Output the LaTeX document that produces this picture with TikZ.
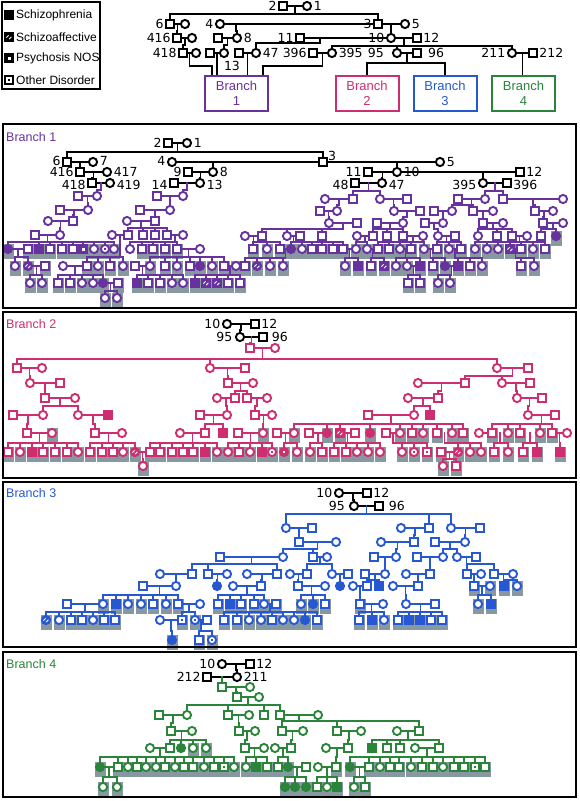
\documentclass[tikz,border=0pt]{standalone}
\usepackage{fontspec}
\setmainfont{Liberation Sans}
\newfontfamily\labf{DejaVu Sans}
\usetikzlibrary{positioning}
\definecolor{purp}{RGB}{104,50,158}
\definecolor{mag}{RGB}{206,46,112}
\definecolor{blu}{RGB}{38,88,212}
\definecolor{grn}{RGB}{42,132,58}
\definecolor{grayb}{RGB}{136,152,160}
\def\pcol{black}
\def\pass{3}
\tikzset{
 sq/.style={rectangle,draw=\pcol,line width=1.9pt,fill=white,minimum size=7.4pt,inner sep=0pt},
 ci/.style={circle,draw=\pcol,line width=1.9pt,fill=white,minimum size=8.2pt,inner sep=0pt},
 ln/.style={draw=\pcol,line width=1.8pt,line cap=rect},
 lab/.style={font=\labf\fontsize{12.5}{13}\selectfont,inner sep=0pt,text=black},
 plab/.style={font=\fontsize{12.5}{14}\selectfont,inner sep=0pt},
 legt/.style={font=\fontsize{12}{13}\selectfont,inner sep=0pt},
 bbox/.style={rectangle,line width=2pt,minimum width=63pt,minimum height=35pt,align=center,font=\fontsize{13}{15}\selectfont,inner sep=1pt},
 panel/.style={line width=2.5pt,draw=black},
 up/.style={yshift=1.5pt},
 dn/.style={yshift=-1.5pt}
}
\newcommand\gbox[2]{\fill[grayb] (#1-5.5,#2-5) rectangle (#1+5.5,#2+10);}
\newcommand\hatchmk[2]{\draw[white,line width=0.8pt] (#1-2.6,#2+0.6) -- (#1-0.4,#2-1.6) (#1+0.2,#2+2.0) -- (#1+2.4,#2-0.2);}
\def\SYm#1#2{\node[sq] (n#1-#2) at (#1,#2) {};}
\def\SYf#1#2{\node[ci] (n#1-#2) at (#1,#2) {};}
\def\SYM#1#2{\node[sq,fill=\pcol] (n#1-#2) at (#1,#2) {};}
\def\SYF#1#2{\node[ci,fill=\pcol] (n#1-#2) at (#1,#2) {};}
\def\SYS#1#2{\node[sq,fill=\pcol] (n#1-#2) at (#1,#2) {};\hatchmk{#1}{#2}}
\def\SYT#1#2{\node[ci,fill=\pcol] (n#1-#2) at (#1,#2) {};\hatchmk{#1}{#2}}
\def\SYd#1#2{\node[sq,fill=\pcol] (n#1-#2) at (#1,#2) {};\fill[white] (#1-1.5,#2-1.5) rectangle (#1+1.5,#2+1.5);}
\def\SYe#1#2{\node[ci,fill=\pcol] (n#1-#2) at (#1,#2) {};\fill[white] (#1-1.3,#2-1.3) rectangle (#1+1.3,#2+1.3);}
\def\SYo#1#2{\node[sq] (n#1-#2) at (#1,#2) {};\fill[\pcol] (#1-1.4,#2-1.4) rectangle (#1+1.4,#2+1.4);}
\def\SYp#1#2{\node[ci] (n#1-#2) at (#1,#2) {};\fill[\pcol] (#1-1.2,#2-1.2) rectangle (#1+1.2,#2+1.2);}
\def\SYgm{\SYm}\def\SYgf{\SYf}\def\SYgM{\SYM}\def\SYgF{\SYF}\def\SYgS{\SYS}
\def\SYgT{\SYT}\def\SYgd{\SYd}\def\SYge{\SYe}\def\SYgo{\SYo}\def\SYgp{\SYp}
\def\GBnone#1#2{}
\def\GBm{\GBnone}\def\GBf{\GBnone}\def\GBM{\GBnone}\def\GBF{\GBnone}\def\GBS{\GBnone}
\def\GBT{\GBnone}\def\GBd{\GBnone}\def\GBe{\GBnone}\def\GBo{\GBnone}\def\GBp{\GBnone}
\def\GBgm{\gbox}\def\GBgf{\gbox}\def\GBgM{\gbox}\def\GBgF{\gbox}\def\GBgS{\gbox}
\def\GBgT{\gbox}\def\GBgd{\gbox}\def\GBge{\gbox}\def\GBgo{\gbox}\def\GBgp{\gbox}
% pass 1: gray boxes + coordinates, pass 2: lines, pass 3: symbols and texts
\newcommand\pers[3]{\ifcase\pass\or
 \coordinate (n#1-#2) at (#1,#2); \csname GB#3\endcsname{#1}{#2}%
 \or\or
 \csname SY#3\endcsname{#1}{#2}%
 \fi}
\newcommand\kin[5]{\ifnum\pass=2
 \draw[ln] (#1,#2) -- (#1,#3);
 \foreach \cx/\ct in {#5}{\draw[ln] (#1,#3) -- (\cx,#3) -- (\cx,#4);}
 \else
 \foreach \cx/\ct in {#5}{\pers{\cx}{#4}{\ct}}
 \fi}
\newcommand\cpl[3]{\ifnum\pass=2 \draw[ln] (n#1-#3.center) -- (n#2-#3.center);\fi}
\newcommand\onlyL[1]{\ifnum\pass=2 #1\fi}
\newcommand\onlyS[1]{\ifnum\pass=3 #1\fi}
\newcommand\allcontent{%
% ---------------- legend
\def\pcol{black}
\onlyS{\draw[line width=2pt] (1.5,2) rectangle (100,89);
\node[legt,anchor=west] (lg1) at (16,15) {Schizophrenia};
\node[legt,anchor=west] (lg2) at (16,37) {Schizoaffective};
\node[legt,anchor=west] (lg3) at (16,58) {Psychosis NOS};
\node[legt,anchor=west] (lg4) at (16,80) {Other Disorder};}
\pers{9}{15}{M} \pers{9}{37}{S} \pers{9}{58}{d} \pers{9}{80}{o}
% ---------------- top pedigree
\pers{283}{6}{m} \pers{307}{6}{f} \cpl{283}{307}{6}
\kin{295}{6}{14}{24}{170/m,378/m}
\pers{185}{24}{f} \cpl{170}{185}{24}
\pers{220}{24}{f} \cpl{220}{378}{24}
\pers{405}{24}{f} \cpl{378}{405}{24}
\kin{177.5}{24}{31}{38}{177/m} \pers{192}{38}{f} \cpl{177}{192}{38}
\kin{236}{24}{31}{38}{237/f} \pers{218}{38}{m} \cpl{218}{237}{38}
\kin{391}{24}{31}{38}{391/f} \pers{300}{38}{m} \cpl{300}{391}{38} \pers{417}{38}{m} \cpl{391}{417}{38}
\kin{185}{38}{45}{53}{183/m} \pers{196}{53}{f} \cpl{183}{196}{53}
\kin{227.5}{38}{45}{53}{224/f} \pers{210}{53}{m} \cpl{210}{224}{53}
\kin{320}{38}{43}{53}{256/f} \pers{239}{53}{m} \cpl{239}{256}{53}
\kin{404}{38}{46}{53}{332/f,397/f,512/f}
\pers{313}{53}{m} \cpl{313}{332}{53}
\pers{417}{53}{m} \cpl{397}{417}{53}
\pers{533}{53}{m} \cpl{512}{533}{53}
\onlyS{%
\node[lab,left=1.5pt of n283-6] (t2) {2};
\node[lab,right=1.5pt of n307-6] (t1) {1};
\node[lab,left=1.5pt of n170-24] (t6) {6};
\node[lab,left=1.5pt of n220-24] (t4) {4};
\node[lab,left=1.5pt of n378-24] (t3) {3};
\node[lab,right=1.5pt of n405-24] (t5) {5};
\node[lab,left=1.5pt of n177-38] (t416) {416};
\node[lab,right=1.5pt of n237-38] (t8) {8};
\node[lab,left=1.5pt of n300-38] (t11) {11};
\node[lab,left=1.5pt of n391-38] (t10) {10};
\node[lab,right=1.5pt of n417-38] (t12) {12};
\node[lab,left=1.5pt of n183-53] (t418) {418};
\node[lab] (t13) at (232,66) {13};
\node[lab,right=1.5pt of n256-53] (t47) {47};
\node[lab,left=1.5pt of n313-53] (t396) {396};
\node[lab,right=1.5pt of n332-53] (t395) {395};
\node[lab,anchor=east] (t95) at (384,53) {95};
\node[lab,anchor=west] (t96) at (428,53) {96};
\node[lab,left=1.5pt of n512-53] (t211) {211};
\node[lab,right=1.5pt of n533-53] (t212) {212};
\node[bbox,draw=purp,text=purp] (b1) at (236.5,93.5) {Branch\\1};
\node[bbox,draw=mag,text=mag] (b2) at (367,93.5) {Branch\\2};
\node[bbox,draw=blu,text=blu] (b3) at (445,93.5) {Branch\\3};
\node[bbox,draw=grn,text=grn] (b4) at (523.5,93.5) {Branch\\4};}
\onlyL{%
\draw[ln] (189.5,53) |- (212,66) -- (212,76);
\draw[ln] (217,53) -- (217,76);
\draw[ln] (247.5,53) -- (247.5,76);
\draw[ln] (322.5,53) |- (263,66) -- (263,76);
\draw[ln] (407,53) |- (367,63) -- (367,76);
\draw[ln] (407,63) -| (445,76);
\draw[ln] (522.5,53) -- (522.5,76);}
% ================= BRANCH 1
\def\pcol{black}
\pers{168}{143}{m} \pers{187}{143}{f} \cpl{168}{187}{143}
\kin{177.5}{143}{152}{162}{67/m,323/m}
\pers{93}{162}{f} \pers{172}{162}{f} \pers{440}{162}{f}
\cpl{67}{93}{162} \cpl{172}{323}{162} \cpl{323}{440}{162}
\kin{80}{162}{167}{172}{80/m} \pers{107}{172}{f} \cpl{80}{107}{172}
\kin{213}{162}{167}{172}{213/f} \pers{188}{172}{m} \cpl{188}{213}{172}
\kin{397}{162}{167}{172}{397/f} \pers{368}{172}{m} \pers{520}{172}{m} \cpl{368}{397}{172} \cpl{397}{520}{172}
\kin{93.5}{172}{178}{183}{92/m} \pers{110}{183}{f} \cpl{92}{110}{183}
\kin{200.5}{172}{178}{183}{200/f} \pers{174}{183}{m} \cpl{174}{200}{183}
\kin{382.5}{172}{178}{183}{382/f} \pers{355}{183}{m} \cpl{355}{382}{183}
\kin{483}{172}{178}{183}{483/f} \pers{507}{183}{m} \cpl{483}{507}{183}
\onlyS{%
\node[plab,text=purp,anchor=west] (P1) at (6,137) {Branch 1};
\node[lab,left=1.5pt of n168-143] (a2) {2};
\node[lab,right=1.5pt of n187-143] (a1) {1};
\node[lab,up,left=1.5pt of n67-162] (a6) {6};
\node[lab,up,right=1.5pt of n93-162] (a7) {7};
\node[lab,up,left=1.5pt of n172-162] (a4) {4};
\node[lab,anchor=south west] (a3) at (328,161) {3};
\node[lab,right=1.5pt of n440-162] (a5) {5};
\node[lab,left=1.5pt of n80-172] (a416) {416};
\node[lab,right=1.5pt of n107-172] (a417) {417};
\node[lab,left=1.5pt of n188-172] (a9) {9};
\node[lab,right=1.5pt of n213-172] (a8) {8};
\node[lab,left=1.5pt of n368-172] (a11) {11};
\node[lab,right=1.5pt of n397-172] (a10) {10};
\node[lab,right=1.5pt of n520-172] (a12) {12};
\node[lab,dn,left=1.5pt of n92-183] (a418) {418};
\node[lab,dn,right=1.5pt of n110-183] (a419) {419};
\node[lab,dn,left=1.5pt of n174-183] (a14) {14};
\node[lab,dn,right=1.5pt of n200-183] (a13) {13};
\node[lab,dn,left=1.5pt of n355-183] (a48) {48};
\node[lab,dn,right=1.5pt of n382-183] (a47) {47};
\node[lab,dn,left=1.5pt of n483-183] (a395) {395};
\node[lab,dn,right=1.5pt of n507-183] (a396) {396};}
\def\pcol{purp}
\kin{101}{183}{190}{196}{97/f} \pers{78}{196}{m} \cpl{78}{97}{196}
\kin{87.5}{196}{203}{210}{88/f} \pers{60}{210}{m} \cpl{60}{88}{210}
\kin{74}{210}{215}{221}{73/m} \pers{48}{221}{f} \cpl{48}{73}{221}
\kin{60.5}{221}{228}{235}{60/f} \pers{35}{235}{m} \cpl{35}{60}{235}
\kin{47.5}{235}{242}{249}{8/gF,39/gM,50/gm,62/gm,73/gm,83/gd,94/gf,105/gp,114/gf}
\pers{28}{249}{gm} \cpl{8}{28}{249}
\kin{18}{249}{257}{266}{15/gf,28/gT} \pers{45}{266}{gm} \cpl{28}{45}{266}
\kin{36.5}{266}{275}{283}{30/gf,42/gf}
\kin{187}{183}{190}{196}{183/f} \pers{157}{196}{m} \cpl{157}{183}{196}
\kin{170}{196}{203}{210}{170/f} \pers{140}{210}{m} \cpl{140}{170}{210}
\kin{155}{210}{215}{221}{155/m} \pers{127}{221}{f} \cpl{127}{155}{221}
\kin{141}{221}{228}{235}{128/m,143/m,155/m,167/m}
\pers{112}{235}{f} \cpl{112}{128}{235} \pers{183}{235}{f} \cpl{167}{183}{235}
\kin{120}{235}{257}{266}{87/gm,98/gf,110/gm,123/gf} \pers{63}{266}{f} \cpl{63}{87}{266}
\kin{175}{235}{242}{249}{130/f,142/gm,153/gm,165/gm,177/gm} \pers{200}{249}{f} \cpl{177}{200}{249}
\kin{188.5}{249}{257}{266}{150/gf,165/gm,177/gf,190/gm,200/gF,212/gf,224/gm} \pers{135}{266}{m} \cpl{135}{150}{266}
\kin{142.5}{266}{275}{283}{137/gM,148/gm,160/gm,172/gf,183/gf}
\pers{236}{266}{gf} \cpl{224}{236}{266}
\kin{230}{266}{275}{283}{195/gM,206/gS,217/gS,228/gm,240/gm}
\kin{75}{266}{275}{283}{58/gm,70/gm,82/gf,93/gf,103/gF} \pers{118}{283}{gm} \cpl{103}{118}{283}
\kin{110.5}{283}{291}{298}{105/gf,117/gf}
\kin{368.5}{183}{191}{199}{353/m,380/f} \pers{325}{199}{f} \pers{407}{199}{m} \cpl{325}{353}{199} \cpl{380}{407}{199}
\kin{495}{183}{191}{199}{485/f,503/m} \pers{458}{199}{m} \pers{563}{199}{f} \cpl{458}{485}{199} \cpl{503}{563}{199}
\kin{339}{199}{205}{211}{337/f} \pers{320}{211}{m} \cpl{320}{337}{211}
\kin{393.5}{199}{205}{211}{394/f} \pers{420}{211}{m} \cpl{394}{420}{211}
\kin{471.5}{199}{205}{211}{452/f,473/m} \pers{434}{211}{m} \pers{493}{211}{f} \cpl{434}{452}{211} \cpl{473}{493}{211}
\kin{533}{199}{205}{211}{535/m} \pers{553}{211}{f} \cpl{535}{553}{211}
\kin{328.5}{211}{217}{223}{329/f} \pers{357}{223}{m} \cpl{329}{357}{223}
\kin{407}{211}{217}{223}{403/f} \pers{377}{223}{m} \cpl{377}{403}{223}
\kin{443}{211}{217}{223}{443/f} \pers{425}{223}{m} \cpl{425}{443}{223}
\kin{483}{211}{217}{223}{483/m} \pers{503}{223}{f} \cpl{483}{503}{223}
\kin{544}{211}{217}{223}{543/m} \pers{563}{223}{f} \cpl{543}{563}{223}
\kin{343}{223}{229}{236}{262/m,287/f,322/m}
\pers{245}{236}{f} \cpl{245}{262}{236} \pers{300}{236}{m} \cpl{287}{300}{236}
\kin{390}{223}{229}{236}{373/m,387/m,403/m} \pers{357}{236}{f} \cpl{357}{373}{236} \pers{423}{236}{f} \cpl{403}{423}{236}
\kin{434}{223}{229}{236}{438/f} \pers{455}{236}{m} \cpl{438}{455}{236}
\kin{493}{223}{229}{236}{478/f,497/m,512/m} \pers{527}{236}{f} \cpl{512}{527}{236}
\kin{553}{223}{229}{236}{541/m,556/gF}
\kin{253.5}{236}{242}{249}{253/gm,267/gf,280/gm}
\kin{293.5}{236}{242}{249}{291/gF,302/gf,312/gm,322/gm,333/gm,343/gm}
\kin{365}{236}{242}{249}{356/gf,367/gf}
\kin{413}{236}{242}{249}{378/gm,389/gm,400/gf,411/gm,424/gf}
\kin{446.5}{236}{242}{249}{437/gm,449/gf,461/gm}
\kin{519.5}{236}{242}{249}{475/gf,487/gf,498/gf,510/gS,521/gm,533/gf,545/gm}
\cpl{280}{291}{249} \kin{285.5}{249}{258}{266}{245/gm,257/gT,270/gf,283/gf}
\cpl{343}{356}{249} \kin{349.5}{249}{258}{266}{345/gf,358/gM}
\cpl{367}{378}{249} \kin{372.5}{249}{258}{266}{371/gm,384/gS}
\cpl{400}{411}{249} \kin{405.5}{249}{258}{266}{396/gf,407/gf,420/gM}
\cpl{424}{437}{249} \kin{430.5}{249}{258}{266}{433/gm,445/gF}
\cpl{449}{461}{249} \kin{455}{249}{258}{266}{458/gM,470/gm,482/gf}
\cpl{510}{521}{249} \kin{515.5}{249}{258}{266}{521/gm,534/gf}
\cpl{407}{420}{266} \kin{413.5}{266}{275}{283}{408/gm,420/gm}
\cpl{445}{458}{266} \kin{451.5}{266}{275}{283}{438/gf,450/gf}
% ================= BRANCH 2
\def\pcol{black}
\pers{227}{324}{f} \pers{255}{324}{m} \cpl{227}{255}{324}
\kin{241}{324}{330}{337}{240/f} \pers{263}{337}{m} \cpl{240}{263}{337}
\onlyS{%
\node[plab,text=mag,anchor=west] (P2) at (6,324) {Branch 2};
\node[lab,left=1.5pt of n227-324] (c10) {10};
\node[lab,right=1.5pt of n255-324] (c12) {12};
\node[lab,left=2.5pt of n240-337] (c95) {95};
\node[lab,right=4pt of n263-337] (c96) {96};}
\def\pcol{mag}
\kin{251.5}{337}{343}{348}{250/m} \pers{275}{348}{f} \cpl{250}{275}{348}
\kin{262.5}{348}{359}{368}{17/m,210/f,497/f}
\pers{42}{368}{f} \cpl{17}{42}{368} \pers{245}{368}{m} \cpl{210}{245}{368} \pers{528}{368}{m} \cpl{497}{528}{368}
\kin{29.5}{368}{376}{383}{30/f} \pers{60}{383}{m} \cpl{30}{60}{383}
\kin{227.5}{368}{376}{383}{228/m} \pers{253}{383}{f} \cpl{228}{253}{383}
\kin{512.5}{368}{376}{383}{465/m,502/f} \pers{418}{383}{f} \cpl{418}{465}{383} \pers{530}{383}{m} \cpl{502}{530}{383}
\kin{45}{383}{391}{398}{45/m} \pers{75}{398}{f} \cpl{45}{75}{398}
\kin{240.5}{383}{391}{398}{235/m,247/m} \pers{217}{398}{f} \cpl{217}{235}{398} \pers{267}{398}{f} \cpl{247}{267}{398}
\kin{441.5}{383}{391}{398}{438/m} \pers{408}{398}{f} \cpl{408}{438}{398}
\kin{516}{383}{391}{398}{517/f} \pers{542}{398}{m} \cpl{517}{542}{398}
\kin{60}{398}{406}{415}{43/f,78/f} \pers{13}{415}{m} \cpl{13}{43}{415} \pers{108}{415}{M} \cpl{78}{108}{415}
\kin{226}{398}{406}{415}{227/f} \pers{200}{415}{m} \cpl{200}{227}{415}
\kin{257}{398}{406}{415}{255/m} \pers{272}{415}{f} \cpl{255}{272}{415}
\kin{423}{398}{406}{415}{414/f,430/M} \pers{368}{415}{m} \cpl{368}{414}{415}
\kin{529.5}{398}{406}{415}{528/f} \pers{555}{415}{m} \cpl{528}{555}{415}
\kin{28}{415}{424}{433}{27/m} \pers{52}{433}{gf} \cpl{27}{52}{433}
\kin{93}{415}{424}{433}{95/m} \pers{122}{433}{f} \cpl{95}{122}{433}
\kin{213.5}{415}{424}{433}{205/m,223/M} \pers{180}{433}{f} \cpl{180}{205}{433}
\kin{263.5}{415}{424}{433}{263/gf} \pers{238}{433}{m} \cpl{238}{263}{433}
\kin{391}{415}{424}{433}{294/gf,327/gF,340/gS,370/gF,400/gf,412/gm,423/gf,437/gm,452/gf,463/gm}
\pers{277}{433}{m} \cpl{277}{294}{433} \pers{309}{433}{m} \cpl{309}{327}{433}
\pers{355}{433}{m} \cpl{340}{355}{433} \pers{386}{433}{m} \cpl{386}{400}{433}
\kin{541.5}{415}{424}{433}{492/gm,508/gf,520/gm,540/gf,552/gm}
\pers{479}{433}{f} \cpl{479}{492}{433} \pers{567}{433}{f} \cpl{552}{567}{433}
\kin{39.5}{433}{443}{452}{8/gm,20/gf,32/gM,43/gm,55/gm,67/gm,78/gf}
\kin{108.5}{433}{443}{452}{90/gm,102/gm,113/gm,123/gf,135/gT}
\kin{192.5}{433}{443}{452}{150/gm,160/gm,172/gm,183/gm,193/gm,205/gM,217/gf}
\kin{250.5}{433}{443}{452}{228/gf,239/gm,250/gf,262/gM,272/gp}
\kin{285.5}{433}{443}{452}{284/ge,297/gf}
\kin{318}{433}{443}{452}{310/gf,322/gm}
\kin{347.5}{433}{443}{452}{334/gm,346/gm,357/gf,368/gf,380/gf}
\kin{393}{433}{443}{452}{402/gf,414/gp,427/go}
\kin{444.5}{433}{443}{452}{458/gT,470/gf,481/gf} \pers{441}{452}{gm} \cpl{441}{458}{452}
\kin{500}{433}{443}{452}{494/gm,508/gf}
\kin{530}{433}{443}{452}{523/gm,537/gM}
\kin{559.5}{433}{443}{452}{560/gM}
\cpl{135}{150}{452} \kin{142.5}{452}{459}{466}{143/gf}
\kin{449.5}{452}{459}{466}{443/gf,456/gm}
% ================= BRANCH 3
\def\pcol{black}
\pers{339}{493}{f} \pers{367}{493}{m} \cpl{339}{367}{493}
\kin{353}{493}{500}{506}{354/f} \pers{379}{506}{m} \cpl{354}{379}{506}
\onlyS{%
\node[plab,text=blu,anchor=west] (P3) at (6,493) {Branch 3};
\node[lab,left=1.5pt of n339-493] (d10) {10};
\node[lab,right=1.5pt of n367-493] (d12) {12};
\node[lab,left=4pt of n354-506] (d95) {95};
\node[lab,right=5pt of n379-506] (d96) {96};}
\def\pcol{blu}
\kin{366.5}{506}{514}{528}{286/f,429/m,451/f}
\pers{312}{528}{m} \cpl{286}{312}{528} \pers{401}{528}{f} \cpl{401}{429}{528} \pers{480}{528}{m} \cpl{451}{480}{528}
\kin{299}{528}{535}{542}{299/m} \pers{336}{542}{f} \cpl{299}{336}{542}
\kin{415}{528}{535}{542}{414/m} \pers{381}{542}{f} \cpl{381}{414}{542}
\kin{465.5}{528}{535}{542}{465/f} \pers{435}{542}{m} \cpl{435}{465}{542}
\kin{317.5}{542}{549}{557}{283/f,313/m} \pers{220}{557}{m} \cpl{220}{283}{557} \pers{327}{557}{f} \cpl{313}{327}{557}
\kin{397.5}{542}{549}{557}{396/f} \pers{374}{557}{m} \cpl{374}{396}{557}
\kin{450}{542}{549}{557}{443/f,457/f} \pers{417}{557}{m} \cpl{417}{443}{557} \pers{476}{557}{m} \cpl{457}{476}{557}
\kin{251.5}{557}{564}{574}{192/m,208/m,277/m}
\pers{160}{574}{f} \cpl{160}{192}{574} \pers{227}{574}{f} \cpl{208}{227}{574} \pers{247}{574}{f} \cpl{247}{277}{574}
\kin{320}{557}{564}{574}{307/m,332/f} \pers{290}{574}{f} \cpl{290}{307}{574} \pers{348}{574}{m} \cpl{332}{348}{574}
\kin{385}{557}{564}{574}{385/f} \pers{365}{574}{m} \cpl{365}{385}{574}
\kin{430}{557}{564}{574}{430/m} \pers{406}{574}{f} \cpl{406}{430}{574}
\kin{466.5}{557}{564}{574}{467/m,494/m} \pers{481}{574}{f} \cpl{467}{481}{574} \pers{513}{574}{f} \cpl{494}{513}{574}
\kin{176}{574}{580}{586}{176/f} \pers{143}{586}{m} \cpl{143}{176}{586}
\kin{217.5}{574}{580}{586}{217/F}
\kin{262}{574}{580}{586}{261/m} \pers{233}{586}{f} \cpl{233}{261}{586}
\kin{298.5}{574}{580}{586}{298/m} \pers{325}{586}{f} \cpl{298}{325}{586}
\kin{340}{574}{580}{586}{340/F}
\kin{375}{574}{580}{586}{367/m,379/M} \pers{353}{586}{f} \cpl{353}{367}{586}
\kin{418}{574}{580}{586}{418/m} \pers{393}{586}{f} \cpl{393}{418}{586}
\kin{474}{574}{580}{586}{474/gm} \pers{490}{586}{gf} \cpl{474}{490}{586}
\kin{503.5}{574}{580}{586}{504/gM,517/gf}
\kin{159.5}{586}{595}{604}{103/gf,116/gM,128/gf,141/gf,153/gm,166/gf,178/gm}
\pers{67}{604}{m} \cpl{67}{103}{604} \pers{200}{604}{f} \cpl{178}{200}{604}
\kin{247}{586}{595}{604}{218/gm,230/gM,241/gm,254/gm,264/gf} \pers{276}{604}{gm} \cpl{264}{276}{604}
\kin{311.5}{586}{595}{604}{301/gf,313/gF,325/gm}
\kin{360}{586}{595}{604}{360/gm} \pers{383}{604}{f} \cpl{360}{383}{604}
\kin{405.5}{586}{595}{604}{406/f} \pers{435}{604}{m} \cpl{406}{435}{604}
\kin{482}{586}{595}{604}{478/gf,491/gM}
\kin{85}{604}{612}{620}{46/gT,59/gf,71/gm,82/gm,93/gf,104/gm,115/gm}
\kin{189}{604}{612}{620}{182/go,195/gp} \pers{160}{620}{f} \cpl{160}{182}{620} \pers{207}{620}{m} \cpl{195}{207}{620}
\kin{270}{604}{612}{620}{224/gm,237/gm,249/gf,261/gf,272/gm,283/gf,294/gf,305/gF,317/gm}
\kin{371.5}{604}{612}{620}{359/gm,372/gM,384/gf}
\kin{420.5}{604}{612}{620}{398/gm,409/gM,420/gM,431/gm,442/gm}
\kin{171}{620}{631}{640}{172/gF}
\kin{201}{620}{631}{640}{199/gm,212/gp}
% ================= BRANCH 4
\def\pcol{black}
\pers{222}{664}{f} \pers{250}{664}{m} \cpl{222}{250}{664}
\kin{236}{664}{670}{677}{237/f} \pers{207}{677}{m} \cpl{207}{237}{677}
\onlyS{%
\node[plab,text=grn,anchor=west] (P4) at (6,664) {Branch 4};
\node[lab,left=1.5pt of n222-664] (e10) {10};
\node[lab,right=1.5pt of n250-664] (e12) {12};
\node[lab,left=1.5pt of n207-677] (e212) {212};
\node[lab,right=1.5pt of n237-677] (e211) {211};}
\def\pcol{grn}
\kin{222}{677}{682}{687}{222/m} \pers{250}{687}{f} \cpl{222}{250}{687}
\kin{236}{687}{692}{697}{237/m} \pers{259}{697}{f} \cpl{237}{259}{697}
\kin{248}{697}{705}{715}{187/f,228/m,264/m,280/m}
\pers{159}{715}{m} \cpl{159}{187}{715} \pers{249}{715}{f} \cpl{228}{249}{715} \pers{318}{715}{f} \cpl{280}{318}{715}
\kin{173}{715}{723}{731}{171/m} \pers{192}{731}{f} \cpl{171}{192}{731}
\kin{238.5}{715}{723}{731}{239/m} \pers{255}{731}{f} \cpl{239}{255}{731}
\kin{299}{715}{721}{731}{282/m,337/m,419/m}
\pers{303}{731}{f} \cpl{282}{303}{731} \pers{361}{731}{f} \cpl{337}{361}{731} \pers{397}{731}{f} \cpl{397}{419}{731}
\kin{181.5}{731}{740}{748}{170/m,181/F,193/gf,206/gf} \pers{150}{748}{f} \cpl{150}{170}{748}
\kin{247}{731}{740}{748}{245/m} \pers{264}{748}{f} \cpl{245}{264}{748}
\kin{292.5}{731}{740}{748}{291/m} \pers{275}{748}{f} \cpl{275}{291}{748}
\kin{349}{731}{740}{748}{348/m} \pers{326}{748}{f} \cpl{326}{348}{748}
\kin{408}{731}{740}{748}{372/M,387/m,400/m,439/m} \pers{415}{748}{f} \cpl{415}{439}{748}
\kin{160}{748}{757}{767}{100/gF,118/gm,128/gf,137/gm,146/gf,156/gf,165/gm,175/gf,184/gm,193/gm,204/gf,214/gm,224/go,234/gf}
\kin{254.5}{748}{757}{767}{246/gf,256/gM,267/gm}
\kin{283}{748}{757}{767}{278/gm,288/gF} \pers{306}{767}{m} \cpl{288}{306}{767}
\kin{337}{748}{757}{767}{336/gm} \pers{318}{767}{f} \cpl{318}{336}{767}
\kin{427}{748}{757}{767}{350/gF,369/gm,380/gf,390/gm,399/gm,411/gf,422/gm,433/gm,443/gf,454/gm,464/gm,475/go,485/gm}
\cpl{350}{369}{767}
\cpl{100}{118}{767} \kin{109}{767}{777}{787}{103/gf,117/gf}
\kin{297}{767}{777}{787}{285/gF,295/gF,306/gF}
\kin{327}{767}{777}{787}{317/gm,327/gf,337/gM}
\kin{359.5}{767}{777}{787}{354/gf,365/gm}
% ================= panel frames
\onlyS{%
\draw[panel] (3,124) rectangle (576,308);
\draw[panel] (3,312) rectangle (576,478);
\draw[panel] (3,482) rectangle (576,647);
\draw[panel] (3,652) rectangle (576,797);}
}
\begin{document}
\begin{tikzpicture}[x=1pt,y=-1pt]
\useasboundingbox (0,0) rectangle (579,801);
\fill[white] (0,0) rectangle (579,801);
\def\pass{1}\allcontent
\def\pass{2}\allcontent
\def\pass{3}\allcontent
\end{tikzpicture}
\end{document}
